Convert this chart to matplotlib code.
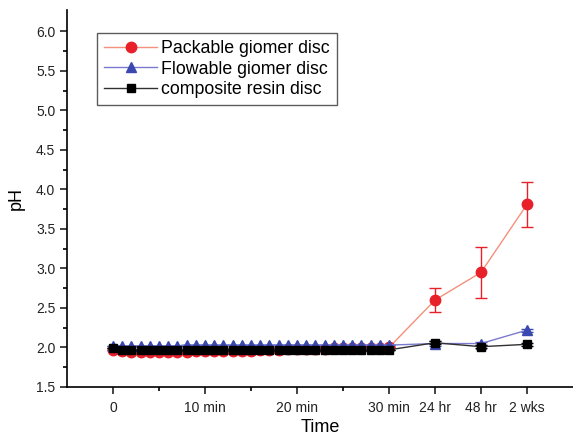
import matplotlib
matplotlib.use("Agg")
import matplotlib.pyplot as plt
import numpy as np
from matplotlib.lines import Line2D

plt.rcParams['font.family'] = ['Liberation Sans', 'DejaVu Sans']

# x positions: minutes 0..30, then 24 hr, 48 hr, 2 wks
minutes = list(range(0, 31))
x_late = [35, 40, 45]

tick_pos = [0, 10, 20, 30, 35, 40, 45]
tick_labels = ["0", "10 min", "20 min", "30 min", "24 hr", "48 hr", "2 wks"]

packable_min = [1.97, 1.95, 1.94, 1.94, 1.94, 1.94, 1.94, 1.94, 1.94, 1.95, 1.95,
                1.95, 1.95, 1.96, 1.96, 1.96, 1.97, 1.97, 1.97, 1.98, 1.98,
                1.98, 1.98, 1.98, 1.99, 1.99, 1.99, 1.99, 1.99, 1.99, 2.00]
packable_late = [2.60, 2.95, 3.81]
packable_err = [0.15, 0.32, 0.29]

flowable_min = [2.02, 2.02, 2.02, 2.02, 2.02, 2.02, 2.02, 2.02, 2.03, 2.03, 2.03,
                2.03, 2.03, 2.03, 2.03, 2.03, 2.03, 2.03, 2.03, 2.03, 2.03,
                2.03, 2.03, 2.03, 2.03, 2.03, 2.03, 2.03, 2.03, 2.03, 2.03]
flowable_late = [2.05, 2.05, 2.22]
flowable_err = [0.03, 0.02, 0.02]

composite_min = [1.99, 1.97, 1.97, 1.97, 1.97, 1.97, 1.97, 1.97, 1.97, 1.97, 1.97,
                 1.97, 1.97, 1.97, 1.97, 1.97, 1.97, 1.97, 1.97, 1.97, 1.97,
                 1.97, 1.97, 1.97, 1.97, 1.97, 1.97, 1.97, 1.97, 1.97, 1.97]
composite_late = [2.06, 2.01, 2.04]
composite_err = [0.02, 0.02, 0.02]

fig = plt.figure(figsize=(5.73, 4.40), dpi=100)
ax = fig.add_axes([67/573, 1-387/440, 1-67/573, (387-10)/440])

x_all = minutes + x_late
series = [
    ("Packable giomer disc", packable_min + packable_late, [0]*31 + packable_err,
     'o', '#f4907c', '#e8202a', 7.5),
    ("Flowable giomer disc", flowable_min + flowable_late, [0]*31 + flowable_err,
     '^', '#7a7ad0', '#3a48b0', 7.0),
    ("composite resin disc", composite_min + composite_late, [0]*31 + composite_err,
     's', '#303030', '#000000', 6.0),
]

z = 2
for label, y, err, m, lc, mc, ms in series:
    ax.errorbar(x_all, y, yerr=err, fmt='none', ecolor=mc, elinewidth=1.0,
                capsize=4, capthick=1.0, zorder=z)
    ax.plot(x_all, y, '-', color=lc, lw=1.0, zorder=z + 0.1)
    ax.plot(x_all, y, m, color=mc, ms=ms, markeredgecolor=mc, zorder=z + 0.2)
    z += 1

handles = []
for label, y, err, m, lc, mc, ms in series:
    handles.append(Line2D([0], [0], color=lc, lw=1.0, marker=m, ms=ms,
                          markerfacecolor=mc, markeredgecolor=mc, label=label))

ax.set_xlim(-5, 50)
ax.set_ylim(1.5, 6.27)
ax.set_xticks(tick_pos)
ax.set_xticklabels(tick_labels)
ax.set_xticks([5, 15, 25], minor=True)
ax.set_yticks(np.arange(1.5, 6.01, 0.5))
ax.set_yticklabels([f"{v:.1f}" for v in np.arange(1.5, 6.01, 0.5)])
ax.set_yticks(np.arange(1.75, 6.0, 0.5), minor=True)

for s in ['top', 'right']:
    ax.spines[s].set_visible(False)
for s in ['left', 'bottom']:
    ax.spines[s].set_linewidth(1.2)
ax.tick_params(axis='both', which='major', direction='out', length=5, width=1.2,
               labelsize=10, colors='#222222')
ax.tick_params(axis='x', which='major', pad=5)
ax.tick_params(axis='both', which='minor', direction='out', length=3, width=1.2)

ax.set_xlabel("Time", fontsize=13, labelpad=3)
ax.set_ylabel("pH", fontsize=13, labelpad=8)

leg = ax.legend(handles=handles, loc='upper left',
                bbox_to_anchor=(97/573, 1-33/440), bbox_transform=fig.transFigure,
                borderaxespad=0, frameon=True, fancybox=False, fontsize=12.8,
                handlelength=3.0, labelspacing=0.2, borderpad=0.4,
                handletextpad=0.2)
leg.get_frame().set_edgecolor('#333333')
leg.get_frame().set_linewidth(1.0)

fig.savefig("out.png", dpi=100)
